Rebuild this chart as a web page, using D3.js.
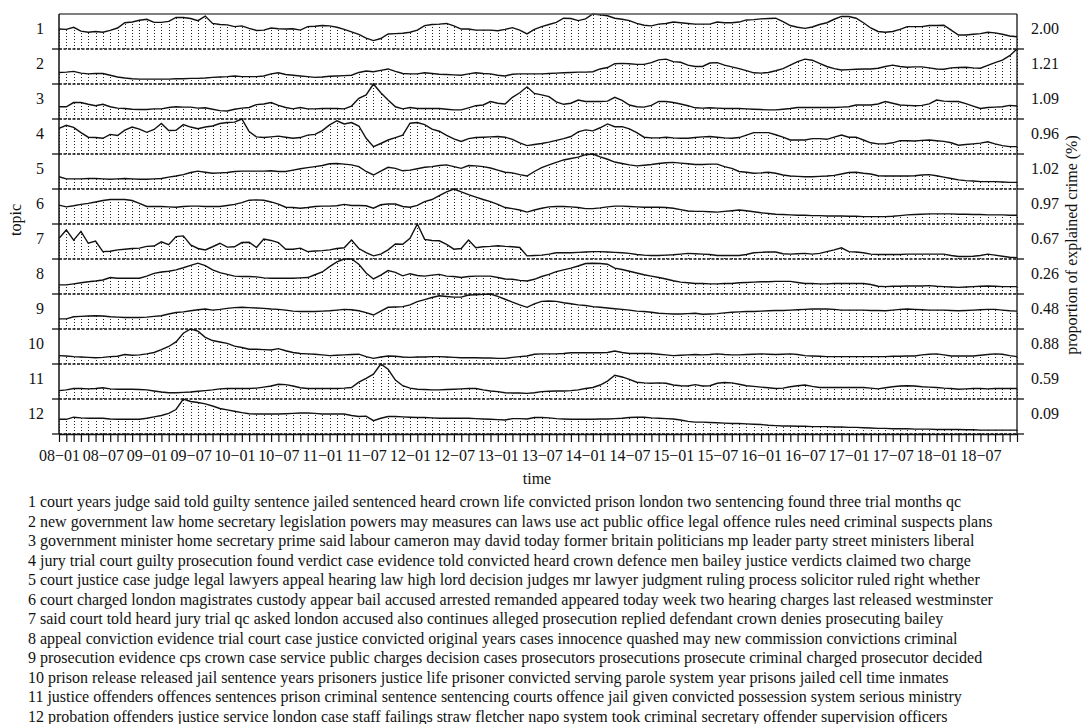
<!DOCTYPE html>
<html>
<head>
<meta charset="utf-8">
<script src="https://cdn.jsdelivr.net/npm/d3@7"></script>
<style>
body { margin: 0; background: #fff; }
svg text { font-family: "Liberation Serif", "Times New Roman", serif; font-size: 16px; fill: #111; }
</style>
</head>
<body>
<svg id="chart" width="1082" height="724"></svg>
<script>
'use strict';

// topic numbers and peak proportion of explained crime (%)
var topics = ['1', '2', '3', '4', '5', '6', '7', '8', '9', '10', '11', '12'];
var peaks = [2.00, 1.21, 1.09, 0.96, 1.02, 0.97, 0.67, 0.26, 0.48, 0.88, 0.59, 0.09];

// monthly series 08-01 .. 18-12, in % of each topic's own peak
var topic1 = [57,56,62,51,48,50,48,53,60,75,77,82,85,76,76,79,90,90,87,81,94,73,70,69,64,66,59,53,54,60,58,57,58,54,64,65,67,66,62,56,49,42,
	31,24,30,43,44,45,48,54,67,70,71,73,66,57,57,54,54,54,52,56,61,54,43,56,64,70,76,88,87,81,86,100,98,95,88,85,81,73,68,66,71,73,77,75,73,71,
	71,71,77,75,75,77,83,84,86,87,88,78,67,62,59,63,70,75,85,93,93,88,75,60,50,48,50,56,64,64,64,67,67,68,54,40,40,42,44,48,46,42,37,35];
var topic2 = [33,34,36,31,29,30,30,25,20,17,15,14,14,14,14,14,15,15,16,16,17,19,20,21,23,21,21,21,23,29,32,27,25,23,21,19,20,22,23,24,25,33,
	37,35,39,43,36,30,29,29,32,30,28,27,26,25,29,32,30,29,25,23,28,29,29,29,29,30,31,32,33,34,34,35,43,47,58,59,58,56,56,61,69,71,64,62,54,50,
	50,60,61,54,49,44,38,32,31,33,38,44,54,64,71,68,59,50,44,40,41,42,43,43,45,50,54,50,48,49,49,46,43,42,46,47,48,46,45,53,61,68,81,100];
var topic3 = [35,35,47,47,42,38,42,35,31,30,28,27,27,29,29,33,35,34,34,31,32,28,24,23,28,31,33,41,43,47,39,33,29,33,29,29,30,30,30,29,37,59,
	69,100,75,54,35,29,33,30,30,30,30,28,26,26,32,38,40,50,45,43,62,75,92,73,69,64,49,42,45,54,50,50,50,51,62,53,40,35,34,39,50,50,47,43,38,32,
	31,32,31,30,30,30,29,28,27,26,26,28,30,33,33,33,33,33,33,34,35,40,40,40,43,50,45,40,39,38,39,43,54,51,50,50,44,37,30,33,34,35,39,37];
var topic4 = [73,82,76,61,48,47,45,56,53,68,77,71,62,70,87,67,68,84,77,72,77,80,87,90,91,100,64,49,47,49,51,48,45,47,54,56,67,83,95,86,90,80,
	45,21,30,40,47,54,88,90,84,71,65,53,43,36,44,47,48,49,50,48,42,32,24,27,30,34,39,44,50,63,69,66,75,86,78,78,72,61,48,46,46,48,46,45,45,47,
	49,50,48,46,45,47,54,61,61,61,55,48,40,40,40,44,44,42,48,54,48,48,40,32,29,29,32,38,38,37,39,40,38,36,32,25,27,29,31,35,29,24,21,21];
var topic5 = [35,29,29,29,30,30,29,28,29,30,29,28,28,29,30,34,37,41,47,51,48,45,46,47,50,51,51,51,51,52,50,50,54,58,61,64,67,72,73,71,69,64,
	50,40,51,62,59,52,54,58,62,64,67,69,64,59,67,66,64,60,54,48,46,41,37,50,61,69,76,83,87,91,98,100,92,85,77,73,69,66,68,70,73,75,76,74,72,70,
	70,71,71,64,59,50,48,45,46,48,45,40,37,36,35,35,36,37,39,43,47,48,45,43,38,37,37,37,37,38,40,41,38,34,30,26,24,23,21,21,21,20,19,19];
var topic6 = [54,49,52,56,59,63,67,70,70,70,67,59,50,50,50,49,48,50,51,51,50,50,50,53,56,61,68,69,68,63,57,48,47,45,47,50,51,51,52,56,53,53,
	52,45,55,57,57,50,48,53,64,70,81,92,100,92,84,77,70,64,56,47,44,40,34,40,45,49,50,50,49,47,44,44,46,49,51,51,50,49,48,48,48,47,45,41,37,36,
	36,35,34,36,38,40,38,35,32,30,28,27,26,25,25,24,24,23,23,23,22,22,21,21,21,21,22,24,26,27,28,29,29,29,29,28,28,27,27,26,26,26,25,25];
var topic7 = [59,83,54,79,45,51,21,22,26,28,30,31,36,37,49,41,64,66,40,30,26,35,45,34,35,47,48,33,57,53,47,28,28,31,21,23,24,26,30,32,54,30,
	18,9,14,26,43,42,59,100,56,53,52,42,28,30,54,32,35,36,38,36,35,33,9,10,11,14,18,18,18,19,20,21,21,20,19,18,16,13,11,10,10,11,12,14,16,15,
	14,13,10,10,10,10,13,18,19,20,20,15,14,15,16,14,16,21,26,32,21,20,18,14,13,13,13,13,14,14,14,14,14,14,10,7,7,8,10,14,11,8,5,4];
var topic8 = [26,26,29,32,35,37,40,47,45,45,45,45,51,59,63,65,69,75,82,88,81,69,61,56,51,50,50,49,46,45,45,45,45,46,47,55,63,78,92,100,100,85,
	60,43,54,67,62,52,58,53,51,54,56,51,50,47,50,51,51,51,47,43,42,39,37,42,50,56,64,69,74,80,87,88,87,85,74,70,65,60,55,51,47,43,38,34,32,30,
	30,29,29,30,30,32,33,34,35,35,36,36,36,33,30,30,29,29,30,30,30,30,30,27,22,21,22,22,23,23,23,24,22,21,20,19,20,21,22,23,22,21,21,21];
var topic9 = [29,29,35,36,37,38,37,35,34,33,33,33,34,36,38,43,47,49,52,55,57,54,56,59,61,62,61,60,59,57,56,54,51,50,50,50,51,52,54,56,55,52,
	47,40,51,62,63,64,69,78,84,90,95,93,91,91,97,98,99,100,93,85,77,69,62,72,79,80,79,75,72,69,67,64,62,60,58,56,54,51,50,48,45,44,43,43,44,45,
	42,43,44,46,48,49,50,50,51,52,53,53,54,55,56,57,57,57,56,54,54,54,54,53,53,52,54,56,57,56,55,54,54,54,53,52,53,54,55,56,56,54,52,51];
var topic10 = [24,23,21,20,19,18,19,21,22,27,25,26,29,33,41,50,63,88,100,94,76,67,63,59,51,47,42,42,41,40,44,38,33,30,29,28,26,24,25,26,27,28,
	21,16,20,23,22,20,19,20,20,21,21,20,19,18,18,18,17,17,16,16,19,21,23,28,29,29,29,30,32,32,32,32,32,33,37,33,30,30,30,30,28,26,24,25,26,27,
	26,27,29,27,26,26,27,28,29,28,27,28,29,27,24,23,22,21,21,21,21,21,21,21,21,21,22,22,23,23,26,28,29,26,23,23,23,23,25,27,29,28,24,21];
var topic11 = [24,26,30,30,29,30,32,29,28,28,28,27,26,23,20,18,18,19,20,22,24,26,29,30,30,30,30,31,34,37,42,41,37,32,30,30,30,30,30,31,33,48,
	59,71,100,85,54,38,31,28,27,26,26,27,28,29,30,30,26,23,21,18,17,17,16,18,21,22,23,23,24,26,30,33,40,51,68,63,56,48,46,45,46,45,40,38,37,41,
	37,38,45,47,46,42,38,36,34,32,30,31,35,38,40,36,33,33,33,33,33,33,33,31,29,32,35,37,38,37,35,34,33,31,30,28,29,30,30,29,30,30,30,30];
var topic12 = [42,42,48,46,45,45,45,43,42,42,42,42,45,49,53,59,70,100,93,90,86,80,73,69,65,61,58,57,57,57,57,58,59,60,60,59,57,57,57,57,53,50,
	51,38,45,50,50,49,48,47,47,46,45,45,45,45,45,44,43,42,41,40,44,44,43,47,47,46,44,43,42,42,42,42,43,43,44,45,47,48,48,46,45,44,43,40,36,34,
	34,33,32,31,30,30,29,28,27,25,24,23,23,22,22,21,21,21,20,20,19,19,18,17,16,16,15,15,15,14,14,14,13,13,13,13,12,12,11,11,11,11,11,11];

var series = [topic1, topic2, topic3, topic4, topic5, topic6, topic7, topic8, topic9, topic10, topic11, topic12];

// x tick labels, one every six months
var tickLabels = ['08\u221201', '08\u221207', '09\u221201', '09\u221207', '10\u221201', '10\u221207', '11\u221201', '11\u221207',
	'12\u221201', '12\u221207', '13\u221201', '13\u221207', '14\u221201', '14\u221207', '15\u221201', '15\u221207',
	'16\u221201', '16\u221207', '17\u221201', '17\u221207', '18\u221201', '18\u221207'];

var topicWords = [
	'1 court years judge said told guilty sentence jailed sentenced heard crown life convicted prison london two sentencing found three trial months qc',
	'2 new government law home secretary legislation powers may measures can laws use act public office legal offence rules need criminal suspects plans',
	'3 government minister home secretary prime said labour cameron may david today former britain politicians mp leader party street ministers liberal',
	'4 jury trial court guilty prosecution found verdict case evidence told convicted heard crown defence men bailey justice verdicts claimed two charge',
	'5 court justice case judge legal lawyers appeal hearing law high lord decision judges mr lawyer judgment ruling process solicitor ruled right whether',
	'6 court charged london magistrates custody appear bail accused arrested remanded appeared today week two hearing charges last released westminster',
	'7 said court told heard jury trial qc asked london accused also continues alleged prosecution replied defendant crown denies prosecuting bailey',
	'8 appeal conviction evidence trial court case justice convicted original years cases innocence quashed may new commission convictions criminal',
	'9 prosecution evidence cps crown case service public charges decision cases prosecutors prosecutions prosecute criminal charged prosecutor decided',
	'10 prison release released jail sentence years prisoners justice life prisoner convicted serving parole system year prisons jailed cell time inmates',
	'11 justice offenders offences sentences prison criminal sentence sentencing courts offence jail given convicted possession system serious ministry',
	'12 probation offenders justice service london case staff failings straw fletcher napo system took criminal secretary offender supervision officers'
];

var plotL = 59, plotR = 1017, plotT = 14, plotB = 434;
var nMonths = topic1.length;

var svg = d3.select('#chart');

var x = d3.scaleLinear()
	.domain([0, nMonths - 1])
	.range([plotL, plotR]);

var band = d3.scaleBand()
	.domain(topics)
	.range([plotT, plotB]);

var bh = band.bandwidth();

var y = d3.scaleLinear()
	.domain([0, 100])
	.range([bh, 0]);

var line = d3.line()
	.x(function(d, i) { return x(i); })
	.y(function(d) { return y(d); });

// rows
topics.forEach(function(t, k) {
	var g = svg.append('g')
		.attr('transform', 'translate(0,' + band(t) + ')');

	// dotted fill, one vertical per month
	g.selectAll('line.fill')
		.data(series[k])
		.enter()
		.append('line')
		.attr('class', 'fill')
		.attr('x1', function(d, i) { return Math.round(x(i)) + 0.5; })
		.attr('x2', function(d, i) { return Math.round(x(i)) + 0.5; })
		.attr('y1', bh)
		.attr('y2', function(d) { return y(d); })
		.style('stroke', '#222')
		.style('stroke-width', 1)
		.style('stroke-dasharray', '1,2');

	// dashed baseline
	g.append('line')
		.attr('x1', plotL)
		.attr('x2', plotR)
		.attr('y1', bh)
		.attr('y2', bh)
		.style('stroke', '#111')
		.style('stroke-width', 1.3)
		.style('stroke-dasharray', '3,1.5');

	g.append('path')
		.datum(series[k])
		.attr('d', line)
		.style('fill', 'none')
		.style('stroke', '#111')
		.style('stroke-width', 1.4);

	// side ticks
	g.append('line')
		.attr('x1', plotL - 7).attr('x2', plotL)
		.attr('y1', bh).attr('y2', bh)
		.style('stroke', '#111').style('stroke-width', 1.3);
	g.append('line')
		.attr('x1', plotR).attr('x2', plotR + 7)
		.attr('y1', bh).attr('y2', bh)
		.style('stroke', '#111').style('stroke-width', 1.3);

	g.append('text')
		.attr('x', 44)
		.attr('y', 20)
		.attr('text-anchor', 'end')
		.text(t);

	g.append('text')
		.attr('x', 1031)
		.attr('y', 20)
		.text(peaks[k].toFixed(2));
});

// frame
svg.append('line')
	.attr('x1', plotL).attr('x2', plotR)
	.attr('y1', plotT).attr('y2', plotT)
	.style('stroke', '#555').style('stroke-width', 1.5);
svg.append('line')
	.attr('x1', plotL).attr('x2', plotL)
	.attr('y1', plotT).attr('y2', plotB)
	.style('stroke', '#111').style('stroke-width', 1.5);
svg.append('line')
	.attr('x1', plotR).attr('x2', plotR)
	.attr('y1', plotT).attr('y2', plotB)
	.style('stroke', '#111').style('stroke-width', 1.3);

// x axis
var xAxis = d3.axisBottom(x)
	.tickValues(d3.range(nMonths))
	.tickSize(8)
	.tickSizeOuter(0)
	.tickFormat(function(i) { return i % 6 === 0 ? tickLabels[i / 6] : ''; });

var ax = svg.append('g')
	.attr('transform', 'translate(0,' + plotB + ')')
	.call(xAxis);
ax.select('.domain').style('stroke', '#111').style('stroke-width', 1.5);
ax.selectAll('.tick line').style('stroke', '#111').style('stroke-width', 1.2);
ax.selectAll('.tick text')
	.attr('y', 16)
	.attr('dy', '0.71em')
	.style('font-family', '"Liberation Serif", "Times New Roman", serif')
	.style('font-size', '16px')
	.style('fill', '#111');

// axis titles
svg.append('text')
	.attr('x', 537)
	.attr('y', 484)
	.attr('text-anchor', 'middle')
	.text('time');

svg.append('text')
	.attr('transform', 'translate(21,220) rotate(-90)')
	.attr('text-anchor', 'middle')
	.text('topic');

svg.append('text')
	.attr('transform', 'translate(1077,245) rotate(-90)')
	.attr('text-anchor', 'middle')
	.text('proportion of explained crime (%)');

// topic word lists
svg.selectAll('text.words')
	.data(topicWords)
	.enter()
	.append('text')
	.attr('class', 'words')
	.attr('x', 28)
	.attr('y', function(d, i) { return 507 + i * 19.5; })
	.text(function(d) { return d; });
</script>
</body>
</html>
